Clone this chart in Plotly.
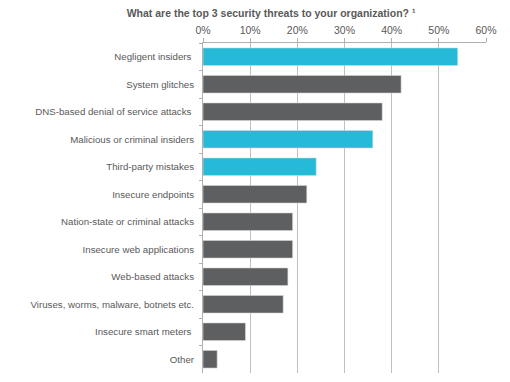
import plotly.graph_objects as go

categories = [
    "Negligent insiders ",
    "System glitches",
    "DNS-based denial of service attacks ",
    "Malicious or criminal insiders",
    "Third-party mistakes",
    "Insecure endpoints",
    "Nation-state or criminal attacks",
    "Insecure web applications",
    "Web-based attacks",
    "Viruses, worms, malware, botnets etc.",
    "Insecure smart meters ",
    "Other",
]
values = [54, 42, 38, 36, 24, 22, 19, 19, 18, 17, 9, 3]
highlight = [True, False, False, True, True, False, False, False, False, False, False, False]
tick_vals = [0, 10, 20, 30, 40, 50, 60]
tick_text = ["0%", "10%", "20%", "30%", "40%", "50%", "60%"]

CYAN = "#25BAD7"
GRAY = "#5E5F61"
colors = [CYAN if h else GRAY for h in highlight]

fig = go.Figure(
    go.Bar(
        x=values,
        y=categories,
        orientation="h",
        marker=dict(color=colors, line=dict(color="#d8d8d8", width=0.6)),
        hoverinfo="x+y",
    )
)

font_color = "#595959"
fig.update_layout(
    width=502,
    height=374,
    margin=dict(l=195, r=24, t=35, b=9),
    paper_bgcolor="white",
    plot_bgcolor="white",
    bargap=0.36,
    showlegend=False,
    font=dict(family="Liberation Sans, Arial, sans-serif", size=10.5, color=font_color),
    title=dict(
        text="<b>What are the top 3 security threats to your organization? \u00b9</b>",
        x=0.524,
        xanchor="center",
        y=0.987,
        yanchor="middle",
        font=dict(size=10.5, color=font_color),
    ),
    xaxis=dict(
        side="top",
        range=[0, 60],
        tickvals=tick_vals,
        ticktext=tick_text,
        showgrid=True,
        gridcolor="#bfbfbf",
        gridwidth=1,
        showline=True,
        linecolor="#b0b0b0",
        linewidth=1,
        ticks="outside",
        ticklen=4,
        tickcolor="#b0b0b0",
        zeroline=False,
        tickfont=dict(size=10.5, color=font_color),
        fixedrange=True,
    ),
    yaxis=dict(
        autorange="reversed",
        showline=True,
        linecolor="#b0b0b0",
        linewidth=1,
        ticks="outside",
        ticklen=3,
        tickcolor="#b0b0b0",
        tickson="boundaries",
        ticklabelstandoff=6,
        tickfont=dict(size=9.7, color=font_color),
        fixedrange=True,
    ),
)

fig.write_html("out.html")
